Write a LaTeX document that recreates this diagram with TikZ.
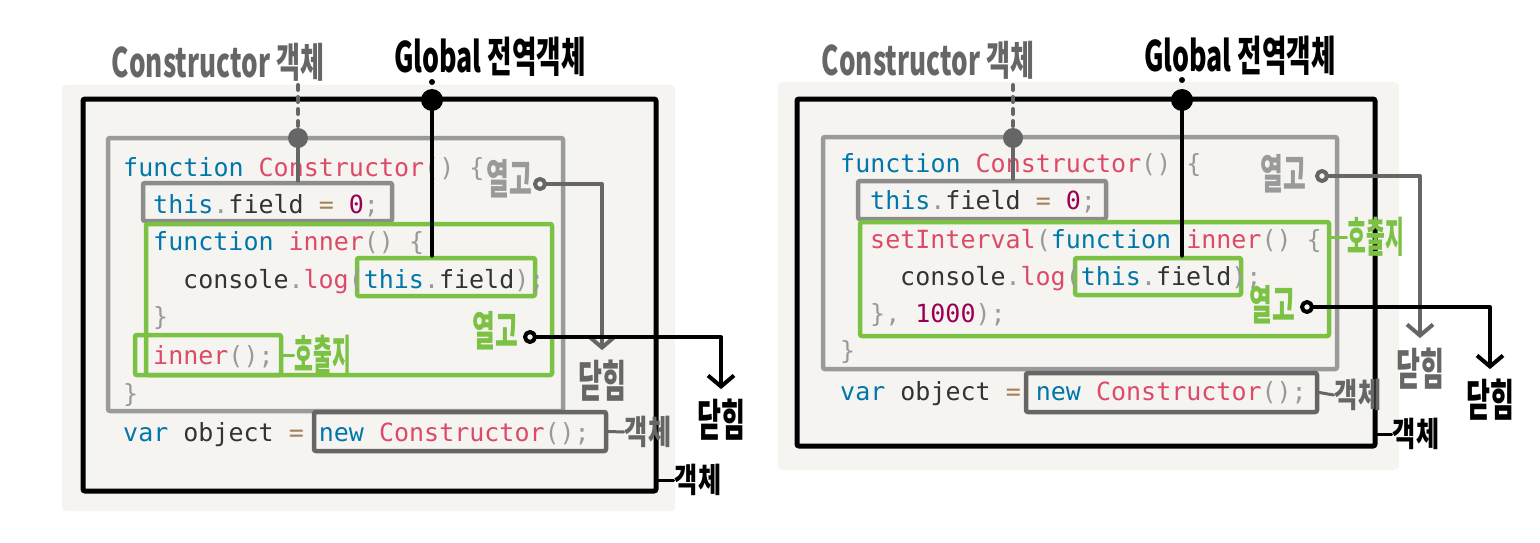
\documentclass[tikz,border=0pt]{standalone}
\usepackage{fontspec}
\usepackage{xcolor}
\usepackage{graphicx}
\usetikzlibrary{arrows.meta}

\setmonofont{DejaVu Sans Mono}
\newfontfamily\hand{Noto Sans CJK KR}

\definecolor{paper}{HTML}{F5F4F0}
\definecolor{kwblue}{HTML}{0077AA}
\definecolor{fnred}{HTML}{DD4A68}
\definecolor{punc}{HTML}{999999}
\definecolor{idtext}{HTML}{333333}
\definecolor{opbrown}{HTML}{A67F59}
\definecolor{nbpurple}{HTML}{990055}
\definecolor{hgreen}{HTML}{7BC143}
\definecolor{boxgrey}{HTML}{9A9A9A}
\definecolor{fieldgrey}{HTML}{8C8C8C}
\definecolor{darkgrey}{HTML}{666666}

\newcommand{\kw}[1]{\textcolor{kwblue}{#1}}
\newcommand{\fnc}[1]{\textcolor{fnred}{#1}}
\newcommand{\pun}[1]{\textcolor{punc}{#1}}
\newcommand{\idn}[1]{\textcolor{idtext}{#1}}
\newcommand{\opr}[1]{\textcolor{opbrown}{#1}}
\newcommand{\nmb}[1]{\textcolor{nbpurple}{#1}}
% hand lettering is narrow and tall
\newcommand{\tall}[3]{\scalebox{#1}[#2]{#3}}

\tikzset{
    codeline/.style={anchor=base west, inner sep=0pt, font=\ttfamily\fontsize{25}{30}\selectfont},
    handbig/.style={inner sep=0pt, font=\hand\bfseries\fontsize{29}{32}\selectfont},
    handmid/.style={inner sep=0pt, font=\hand\bfseries\fontsize{26}{30}\selectfont},
    handsmall/.style={inner sep=1pt, font=\hand\bfseries\fontsize{24}{26}\selectfont},
    blackbox/.style={draw=black, line width=5pt, rounded corners=2pt, inner sep=0pt},
    greybox/.style={draw=boxgrey, line width=4.5pt, rounded corners=2pt, inner sep=0pt},
    fieldbox/.style={draw=fieldgrey, line width=4.5pt, rounded corners=2pt, inner sep=0pt},
    newbox/.style={draw=darkgrey, line width=4.5pt, rounded corners=2pt, inner sep=0pt},
    greenbox/.style={draw=hgreen, line width=4.5pt, rounded corners=2pt, inner sep=0pt},
    blackwire/.style={draw=black, line width=4pt, line cap=round, line join=round},
    greywire/.style={draw=darkgrey, line width=4pt, line cap=round, line join=round},
    tick/.style={line width=3pt, line cap=round},
    barb/.style={-{Straight Barb[length=11pt, width=26pt]}},
}

\begin{document}
\begin{tikzpicture}[x=1pt, y=-1pt]

    \useasboundingbox (0,0) rectangle (1540,543);

    \fill[paper, rounded corners=4] (62,85) rectangle (675,511);

    \fill[paper, rounded corners=4] (778,82) rectangle (1399,470);

    % left: closure inside the constructor
    \node[blackbox, minimum width=573, minimum height=392] (outerL) at (369.5,295) {};
    \node[greybox, minimum width=455, minimum height=273] (ctorL) at (335.5,274.5) {};
    \node[fieldbox, minimum width=249, minimum height=38] (fieldL) at (267.5,202) {};
    \node[greenbox, minimum width=406, minimum height=151] (innerL) at (349,299.5) {};
    \node[greenbox, minimum width=178, minimum height=38] (thisL) at (446,277) {};
    \node[greenbox, minimum width=146, minimum height=40] (callL) at (208,355) {};
    \node[newbox, minimum width=292, minimum height=39] (newL) at (460,431.5) {};

    \node[codeline] (l1) at (123,176) {\kw{function} \fnc{Constructor}\pun{()} \pun{\{}};
    \node[codeline] (l2) at (153,213) {\kw{this}\pun{.}\idn{field} \opr{=} \nmb{0}\pun{;}};
    \node[codeline] (l3) at (153,250) {\kw{function} \fnc{inner}\pun{()} \pun{\{}};
    \node[codeline] (l4) at (183,288) {\idn{console}\pun{.}\fnc{log}\pun{(}\kw{this}\pun{.}\idn{field}\pun{);}};
    \node[codeline] (l5) at (153,325) {\pun{\}}};
    \node[codeline] (l6) at (153,364) {\fnc{inner}\pun{();}};
    \node[codeline] (l7) at (123,402) {\pun{\}}};
    \node[codeline] (l8) at (123,441) {\kw{var} \idn{object} \opr{=} \kw{new} \fnc{Constructor}\pun{();}};

    \node[handbig, text=darkgrey] (ctorTagL) at (218,62) {\tall{0.9}{1.4}{Constructor 객체}};
    \node[handbig] (globTagL) at (490,57) {\tall{0.92}{1.45}{Global 전역객체}};
    \node[handmid, text=boxgrey] (openTagL1) at (509,179) {\tall{0.95}{1.6}{열고}};
    \node[handmid, text=hgreen] (openTagL2) at (495,331) {\tall{0.95}{1.6}{열고}};
    \node[handmid, text=darkgrey] (closeTagL1) at (602,381) {\tall{1}{1.7}{닫힘}};
    \node[handmid] (closeTagL2) at (721,420) {\tall{1}{1.7}{닫힘}};
    \node[handsmall, text=hgreen] (callTagL) at (323,355) {\tall{0.85}{1.75}{호출지}};
    \node[handsmall, text=darkgrey] (objTagL1) at (648,432) {\tall{1.05}{1.4}{객체}};
    \node[handsmall] (objTagL2) at (698,480) {\tall{1.05}{1.4}{객체}};

    \coordinate (globL) at (432,100);
    \coordinate (ctorDotL) at (298,138);
    \coordinate (openL1) at (540,184);
    \coordinate (openL2) at (530,337);

    \draw[blackwire] (globL) -- (globL |- thisL.north);
    \fill (globL) circle (11);
    \fill (432,82) circle (3);

    \draw[greywire, dash pattern=on 5pt off 7pt] (ctorDotL) -- ++(0,-53);
    \draw[greywire] (ctorDotL) -- (ctorDotL |- fieldL.north);
    \fill[darkgrey] (ctorDotL) circle (10);

    \draw[greywire, barb] (openL1) -| ([yshift=10pt]closeTagL1.north);
    \draw[greywire, fill=paper] (openL1) circle (5);

    \draw[blackwire, barb] (openL2) -| ([yshift=10pt]closeTagL2.north);
    \draw[blackwire, fill=paper] (openL2) circle (5);

    \draw[tick, hgreen] (callL.east) -- (callTagL.west);
    \draw[tick, darkgrey] (newL.east) -- (objTagL1.west);
    \draw[tick] (outerL.east |- objTagL2.west) -- (objTagL2.west);

    % right: closure passed to setInterval
    \node[blackbox, minimum width=578, minimum height=347] (outerR) at (1086,272.5) {};
    \node[greybox, minimum width=514, minimum height=232] (ctorR) at (1080,253) {};
    \node[fieldbox, minimum width=248, minimum height=38] (fieldR) at (982,200) {};
    \node[greenbox, minimum width=469, minimum height=114] (innerR) at (1094.5,279) {};
    \node[greenbox, minimum width=166, minimum height=37] (thisR) at (1158,276.5) {};
    \node[newbox, minimum width=291, minimum height=39] (newR) at (1171.5,392.5) {};

    \node[codeline] (r1) at (840,172) {\kw{function} \fnc{Constructor}\pun{()} \pun{\{}};
    \node[codeline] (r2) at (870,209) {\kw{this}\pun{.}\idn{field} \opr{=} \nmb{0}\pun{;}};
    \node[codeline] (r3) at (870,248) {\fnc{setInterval}\pun{(}\kw{function} \fnc{inner}\pun{()} \pun{\{}};
    \node[codeline] (r4) at (900,285) {\idn{console}\pun{.}\fnc{log}\pun{(}\kw{this}\pun{.}\idn{field}\pun{);}};
    \node[codeline] (r5) at (870,322) {\pun{\},} \nmb{1000}\pun{);}};
    \node[codeline] (r6) at (840,359) {\pun{\}}};
    \node[codeline] (r7) at (840,400) {\kw{var} \idn{object} \opr{=} \kw{new} \fnc{Constructor}\pun{();}};

    \node[handbig, text=darkgrey] (ctorTagR) at (928,60) {\tall{0.9}{1.4}{Constructor 객체}};
    \node[handbig] (globTagR) at (1240,56) {\tall{0.92}{1.45}{Global 전역객체}};
    \node[handmid, text=boxgrey] (openTagR1) at (1283,174) {\tall{0.95}{1.6}{열고}};
    \node[handmid, text=hgreen] (openTagR2) at (1272,305) {\tall{0.95}{1.6}{열고}};
    \node[handmid, text=darkgrey] (closeTagR1) at (1420,369) {\tall{1}{1.7}{닫힘}};
    \node[handmid] (closeTagR2) at (1490,400) {\tall{1}{1.7}{닫힘}};
    \node[handsmall, text=hgreen] (callTagR) at (1376,237) {\tall{0.85}{1.75}{호출지}};
    \node[handsmall, text=darkgrey] (objTagR1) at (1358,395) {\tall{1.05}{1.4}{객체}};
    \node[handsmall] (objTagR2) at (1416,434) {\tall{1.05}{1.4}{객체}};

    \coordinate (globR) at (1182,100);
    \coordinate (ctorDotR) at (1013,138);
    \coordinate (openR1) at (1322,176);
    \coordinate (openR2) at (1307,307);

    \draw[blackwire] (globR) -- (globR |- thisR.north);
    \fill (globR) circle (11);
    \fill (1182,80) circle (3);

    \draw[greywire, dash pattern=on 5pt off 7pt] (ctorDotR) -- ++(0,-53);
    \draw[greywire] (ctorDotR) -- (ctorDotR |- fieldR.north);
    \fill[darkgrey] (ctorDotR) circle (10);

    \draw[greywire, barb] (openR1) -| ([yshift=10pt]closeTagR1.north);
    \draw[greywire, fill=paper] (openR1) circle (5);

    \draw[blackwire, barb] (openR2) -| ([yshift=10pt]closeTagR2.north);
    \draw[blackwire, fill=paper] (openR2) circle (5);

    \draw[tick, hgreen] (innerR.east |- callTagR.west) -- (callTagR.west);
    \draw[tick, darkgrey] (newR.east) -- (objTagR1.west);
    \draw[tick] (outerR.east |- objTagR2.west) -- (objTagR2.west);

\end{tikzpicture}
\end{document}
